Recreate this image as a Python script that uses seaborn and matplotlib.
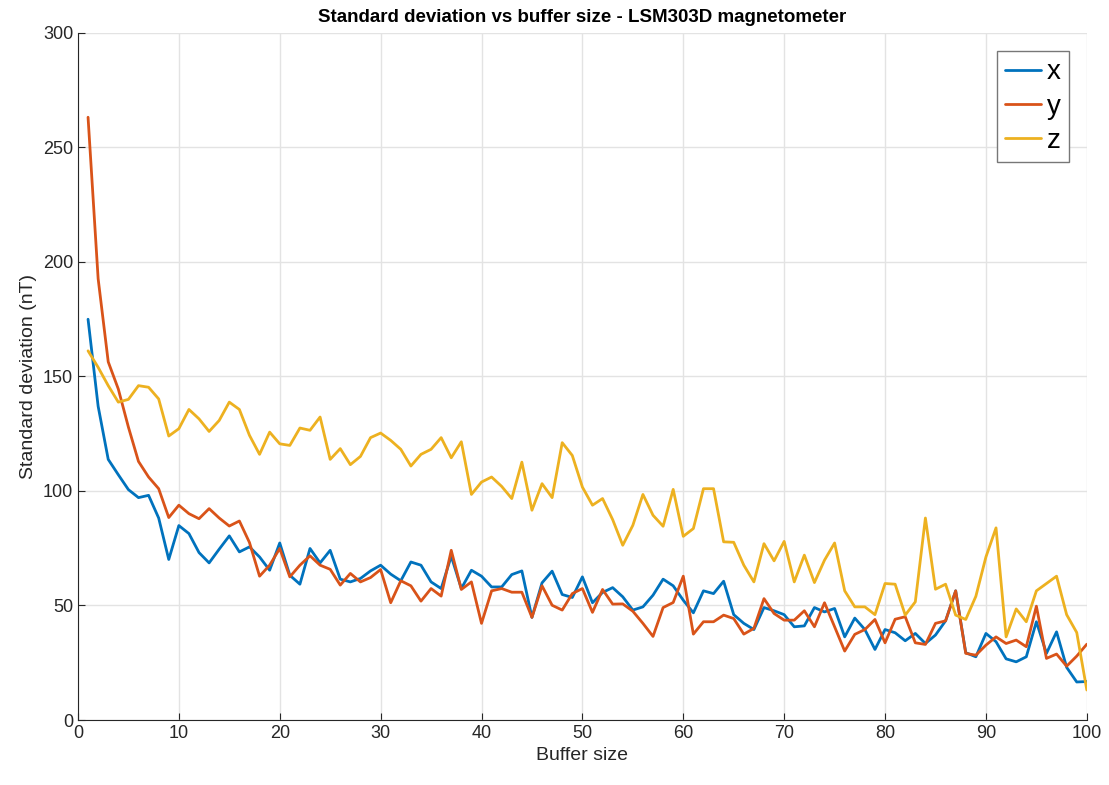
import numpy as np
import pandas as pd
import matplotlib
matplotlib.use("Agg")
import matplotlib.pyplot as plt
import seaborn as sns

buffer_size = list(range(1, 101))

std_x = [175, 137, 113.8, 107.1, 100.6, 97.1, 98.1, 88.2, 70.1, 84.9,
         81.4, 73.1, 68.6, 74.6, 80.4, 73.4, 75.6, 71.2, 65.4, 77.3,
         63.2, 59.3, 74.9, 68.6, 74.1, 61.5, 60.3, 61.8, 65.1, 67.6,
         63.7, 60.8, 69.0, 67.6, 60.3, 57.4, 71.5, 57.4, 65.4, 62.8,
         58.1, 58.1, 63.5, 65.1, 44.8, 59.9, 65.0, 54.8, 53.5, 62.5,
         51.2, 55.7, 57.8, 53.8, 48.0, 49.4, 54.5, 61.5, 58.6, 52.3,
         46.8, 56.4, 55.2, 60.6, 46.0, 42.2, 39.5, 49.1, 47.7, 46.0,
         40.7, 41.1, 49.1, 47.2, 48.7, 36.3, 44.5, 39.5, 30.8, 39.5,
         38.1, 34.6, 37.8, 33.4, 37.1, 43.3, 56.4, 29.4, 27.6, 37.8,
         34.2, 26.7, 25.4, 27.6, 42.9, 29.1, 38.5, 23.0, 16.6, 16.8]

std_y = [263.2, 192.7, 156.4, 144.5, 127.9, 112.9, 106.1, 101.0, 88.4, 93.8,
         90.1, 87.9, 92.3, 88.2, 84.7, 86.9, 77.5, 62.8, 67.6, 74.9,
         62.5, 67.6, 71.7, 67.6, 65.8, 58.9, 64.0, 60.3, 62.2, 65.7,
         51.2, 60.8, 58.6, 51.9, 57.4, 54.1, 74.1, 57.0, 60.3, 42.2,
         56.4, 57.4, 55.8, 55.8, 44.8, 58.6, 50.1, 48.0, 55.2, 57.4,
         47.0, 57.0, 50.6, 50.7, 47.5, 42.2, 36.5, 49.1, 51.3, 62.8,
         37.5, 42.9, 42.9, 45.8, 44.3, 37.5, 40.0, 53.0, 46.5, 43.6,
         43.6, 47.7, 40.7, 51.2, 40.7, 30.1, 37.4, 39.5, 43.9, 33.7,
         44.0, 45.1, 33.7, 33.0, 42.2, 43.3, 56.4, 29.1, 28.3, 32.7,
         36.3, 33.4, 34.9, 32.0, 49.7, 26.9, 28.8, 23.5, 27.9, 33.1]

std_z = [161.2, 154.0, 146.0, 138.8, 140.0, 146.0, 145.3, 140.2, 124.0, 127.2,
         135.6, 131.5, 126.0, 130.8, 138.8, 135.6, 124.3, 116.0, 125.7, 120.6,
         119.9, 127.5, 126.5, 132.3, 113.8, 118.5, 111.5, 115.1, 123.3, 125.3,
         122.1, 118.2, 110.9, 116.0, 118.2, 123.3, 114.5, 121.5, 98.5, 103.9,
         106.1, 102.0, 96.7, 112.6, 91.6, 103.2, 97.1, 121.1, 115.5, 101.7,
         93.8, 96.7, 87.5, 76.3, 85.0, 98.5, 89.4, 84.6, 100.7, 80.2,
         83.6, 101.0, 101.0, 77.8, 77.6, 67.6, 60.3, 77.0, 69.5, 78.0,
         60.3, 72.0, 60.0, 69.8, 77.3, 56.4, 49.4, 49.4, 46.0, 59.6,
         59.3, 45.8, 51.6, 88.2, 57.1, 59.3, 45.8, 43.9, 54.0, 71.2,
         83.9, 36.3, 48.5, 42.9, 56.4, 59.6, 62.8, 46.0, 38.2, 13.1]

axes_names = ["x", "y", "z"]
colors = ["#0072BD", "#D95319", "#EDB120"]

df = pd.DataFrame({
    "Buffer size": buffer_size * 3,
    "std": std_x + std_y + std_z,
    "axis": [a for a in axes_names for _ in buffer_size],
})

sns.set_style("whitegrid")
plt.rcParams["font.family"] = ["Liberation Sans", "DejaVu Sans"]

fig = plt.figure(figsize=(11.09, 7.85), dpi=100)
ax = fig.add_axes([0.0703, 0.0828, 0.9097, 0.8752])

sns.lineplot(data=df, x="Buffer size", y="std", hue="axis",
             palette=colors, linewidth=2, ax=ax)

ax.set_xlim(0, 100)
ax.set_ylim(0, 300)
ax.set_xticks(range(0, 101, 10))
ax.set_yticks(range(0, 301, 50))
ax.grid(True, color="#e3e3e3", linewidth=1)
for s in ["top", "right"]:
    ax.spines[s].set_visible(False)
for s in ["left", "bottom"]:
    ax.spines[s].set_visible(True)
    ax.spines[s].set_color("#262626")
    ax.spines[s].set_linewidth(0.8)
ax.tick_params(axis="both", direction="in", length=5, width=0.8,
               colors="#262626", labelsize=13, top=False, right=False,
               bottom=True, left=True)
ax.set_xlabel("Buffer size", fontsize=14, color="#262626")
ax.set_ylabel("Standard deviation (nT)", fontsize=14, color="#262626")
ax.set_title("Standard deviation vs buffer size - LSM303D magnetometer",
             fontsize=13.5, fontweight="bold", color="black", pad=8)

leg = ax.legend(loc="upper right", fontsize=20, frameon=True, fancybox=False,
                edgecolor="#777777", handlelength=1.3, handletextpad=0.2,
                borderaxespad=0.65, labelspacing=0.3, borderpad=0.3,
                framealpha=1)
leg.get_frame().set_linewidth(1.0)
for line in leg.get_lines():
    line.set_linewidth(2)
for t in leg.get_texts():
    t.set_color("black")

fig.savefig("out.png", dpi=100)
